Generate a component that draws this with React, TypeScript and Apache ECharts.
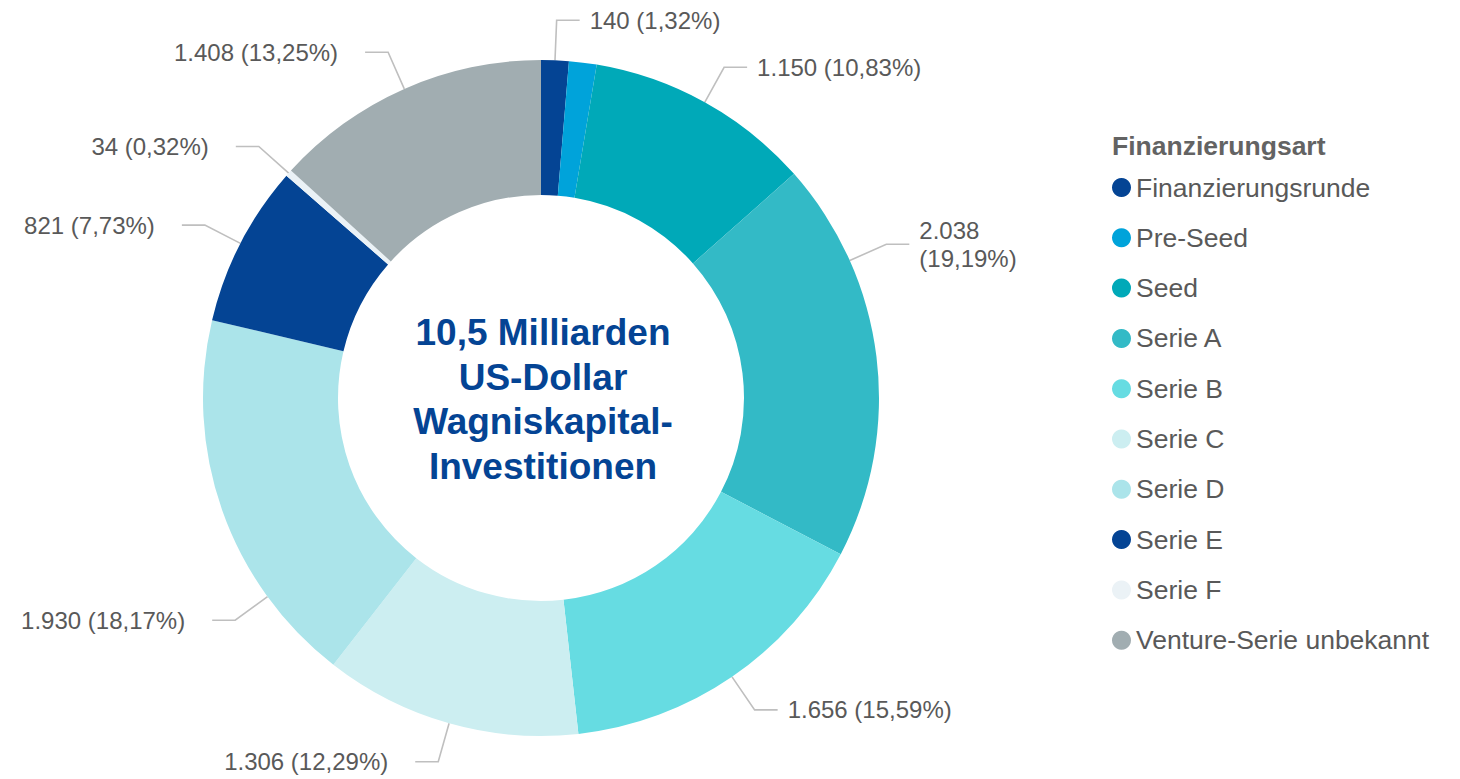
import React, { useEffect, useRef } from 'react';
import * as echarts from 'echarts';

const categories = [
  'Finanzierungsrunde',
  'Pre-Seed',
  'Seed',
  'Serie A',
  'Serie B',
  'Serie C',
  'Serie D',
  'Serie E',
  'Serie F',
  'Venture-Serie unbekannt',
];
const values = [140, 140, 1150, 2038, 1656, 1306, 1930, 821, 34, 1408];
const shareLabels = ['1,32', '1,32', '10,83', '19,19', '15,59', '12,29', '18,17', '7,73', '0,32', '13,25'];
const colors = [
  '#044494',
  '#00A3DA',
  '#00A9B8',
  '#33BAC6',
  '#66DCE2',
  '#CCEEF1',
  '#ABE4EA',
  '#044494',
  '#EBF2F6',
  '#A1ADB1',
];
const centerLines = ['10,5 Milliarden', 'US-Dollar', 'Wagniskapital-', 'Investitionen'];
const legendTitle = 'Finanzierungsart';

// layout / style settings
const CX = 541;
const CY = 398;
const R_IN = 203;
const R_OUT = 338;
const L1 = 40;
const L2 = 23;
const hiddenLabels = [1];
const wrappedLabels = [3];
const anchorOverride: Record<number, number> = { 3: 66, 6: 234 };
const FONT = '"Liberation Sans", Arial, Helvetica, sans-serif';

const fmt = (v: number) => String(v).replace(/\B(?=(\d{3})+(?!\d))/g, '.');

export default function App() {
  const ref = useRef<HTMLDivElement>(null);
  useEffect(() => {
    if (!ref.current) return;
    const chart = echarts.init(ref.current, undefined, { renderer: 'svg' });
    const total = values.reduce((a, b) => a + b, 0);
    const midAngles: number[] = [];
    let cum = 0;
    values.forEach((v) => {
      midAngles.push(((cum + v / 2) / total) * 360);
      cum += v;
    });

    chart.setOption({
      animation: false,
      backgroundColor: '#ffffff',
      textStyle: { fontFamily: FONT },
      legend: {
        orient: 'vertical',
        left: 1107,
        top: 169,
        icon: 'circle',
        itemWidth: 19,
        itemHeight: 19,
        itemGap: 23.3,
        selectedMode: false,
        data: categories,
        textStyle: { color: '#595959', fontSize: 26.5, lineHeight: 26, fontFamily: FONT },
      },
      graphic: [
        {
          type: 'text',
          x: 1112,
          y: 146,
          style: {
            text: legendTitle,
            fill: '#636363',
            font: `bold 26.5px ${FONT}`,
            textAlign: 'left',
            textVerticalAlign: 'middle',
          },
        },
        {
          type: 'text',
          x: CX + 2,
          y: CY + 1.5,
          z: 10,
          style: {
            text: centerLines.join('\n'),
            fill: '#044494',
            font: `bold 37px ${FONT}`,
            lineHeight: 44.5,
            textAlign: 'center',
            textVerticalAlign: 'middle',
          },
        },
      ],
      series: [
        {
          type: 'pie',
          center: [CX, CY],
          radius: [R_IN, R_OUT],
          startAngle: 90,
          clockwise: true,
          avoidLabelOverlap: false,
          emphasis: { disabled: true },
          data: categories.map((name, i) => ({
            name,
            value: values[i],
            itemStyle: { color: colors[i] },
            label: { show: !hiddenLabels.includes(i) },
            labelLine: { show: !hiddenLabels.includes(i) },
          })),
          label: {
            show: true,
            position: 'outside',
            color: '#595959',
            fontSize: 24,
            lineHeight: 28,
            fontFamily: FONT,
            formatter: (p: any) => {
              const i = p.dataIndex;
              const sep = wrappedLabels.includes(i) ? '\n' : ' ';
              return `${fmt(values[i])}${sep}(${shareLabels[i]}%)`;
            },
          },
          labelLine: {
            show: true,
            length: L1,
            length2: L2,
            lineStyle: { color: '#BFBFBF', width: 1.6 },
          },
          labelLayout: (params: any) => {
            const i = params.dataIndex;
            const deg = anchorOverride[i] ?? midAngles[i];
            const a = (deg * Math.PI) / 180;
            const s = Math.sin(a);
            const c = Math.cos(a);
            const p1 = [CX + R_OUT * s, CY - R_OUT * c];
            const p2 = [CX + (R_OUT + L1) * s, CY - (R_OUT + L1) * c];
            const right = s >= 0;
            const p3 = [p2[0] + (right ? L2 : -L2), p2[1]];
            return {
              x: right ? p3[0] + 10 : p3[0] - 27,
              y: p3[1],
              align: right ? 'left' : 'right',
              verticalAlign: 'middle',
              labelLinePoints: [p1, p2, p3],
            };
          },
        },
      ],
    });
    return () => chart.dispose();
  }, []);
  return (
    <div
      ref={ref}
      style={{ position: 'fixed', left: 0, top: 0, width: 1460, height: 779 }}
    />
  );
}
